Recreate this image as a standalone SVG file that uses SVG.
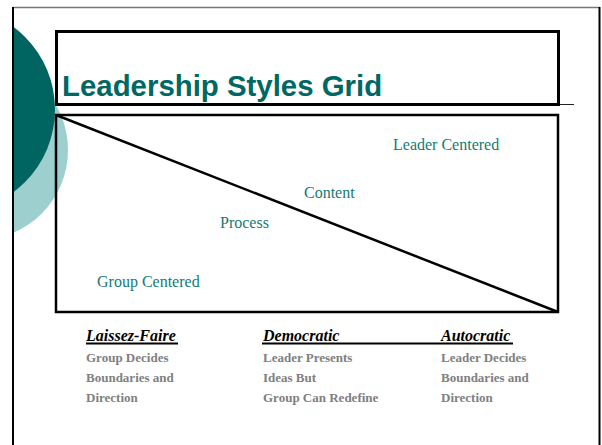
<svg xmlns="http://www.w3.org/2000/svg" width="602" height="445" viewBox="0 0 602 445">
  <style>
    .frame { fill: none; stroke: #000; }
    .title { font-family: "Liberation Sans", Arial, sans-serif; font-weight: bold; font-size: 29.4px; fill: #006864; }
    .zone { font-family: "Liberation Serif", "Times New Roman", serif; font-size: 16px; fill: #137b74; }
    .head { font-family: "Liberation Serif", "Times New Roman", serif; font-size: 16px; font-weight: bold; font-style: italic; fill: #000; }
    .desc { font-family: "Liberation Serif", "Times New Roman", serif; font-size: 13px; font-weight: bold; fill: #808080; }
  </style>
  <defs>
    <clipPath id="slideClip">
      <rect x="14" y="8" width="588" height="437"/>
    </clipPath>
  </defs>

  <rect width="602" height="445" fill="#fff"/>

  <!-- decorative circles on the left edge -->
  <g id="decor" clip-path="url(#slideClip)">
    <circle cx="-22" cy="150" r="90" fill="#9dcfcf"/>
    <circle cx="-48" cy="109.5" r="103" fill="#006461"/>
  </g>

  <!-- slide frame -->
  <g id="frame">
    <line x1="13" y1="7.5" x2="600" y2="7.5" stroke="#777" stroke-width="1.5"/>
    <line x1="13" y1="7" x2="13" y2="445" stroke="#000" stroke-width="2"/>
    <line x1="599.5" y1="7" x2="599.5" y2="445" stroke="#000" stroke-width="2"/>
  </g>

  <!-- title box -->
  <g id="title">
    <line x1="56" y1="104.5" x2="574" y2="104.5" stroke="#222" stroke-width="1"/>
    <rect x="56.5" y="31.5" width="502" height="73" class="frame" stroke-width="3"/>
    <text x="62" y="96" class="title">Leadership Styles Grid</text>
  </g>

  <!-- grid box with its diagonal -->
  <g id="grid">
    <rect x="56" y="115" width="502" height="197" class="frame" stroke-width="2.5"/>
  </g>
  <g id="connectors">
    <line x1="56" y1="115" x2="558" y2="312" stroke="#000" stroke-width="2.5"/>
  </g>

  <g id="leader-centered"><text x="393" y="149.5" class="zone">Leader Centered</text></g>
  <g id="content"><text x="304" y="198" class="zone">Content</text></g>
  <g id="process"><text x="220" y="228" class="zone">Process</text></g>
  <g id="group-centered"><text x="97" y="287" class="zone">Group Centered</text></g>

  <!-- style columns -->
  <g id="underlines" stroke="#000" stroke-width="2.2">
    <line x1="86" y1="343.5" x2="178" y2="343.5"/>
    <line x1="262" y1="343.5" x2="513" y2="343.5"/>
  </g>

  <g id="laissez-faire">
    <text x="86" y="341" class="head">Laissez-Faire</text>
    <text x="86" y="362" class="desc">Group Decides</text>
    <text x="86" y="382" class="desc">Boundaries and</text>
    <text x="86" y="402" class="desc">Direction</text>
  </g>
  <g id="democratic">
    <text x="263" y="341" class="head">Democratic</text>
    <text x="263" y="362" class="desc">Leader Presents</text>
    <text x="263" y="382" class="desc">Ideas But</text>
    <text x="263" y="402" class="desc">Group Can Redefine</text>
  </g>
  <g id="autocratic">
    <text x="441" y="341" class="head">Autocratic</text>
    <text x="441" y="362" class="desc">Leader Decides</text>
    <text x="441" y="382" class="desc">Boundaries and</text>
    <text x="441" y="402" class="desc">Direction</text>
  </g>
</svg>
